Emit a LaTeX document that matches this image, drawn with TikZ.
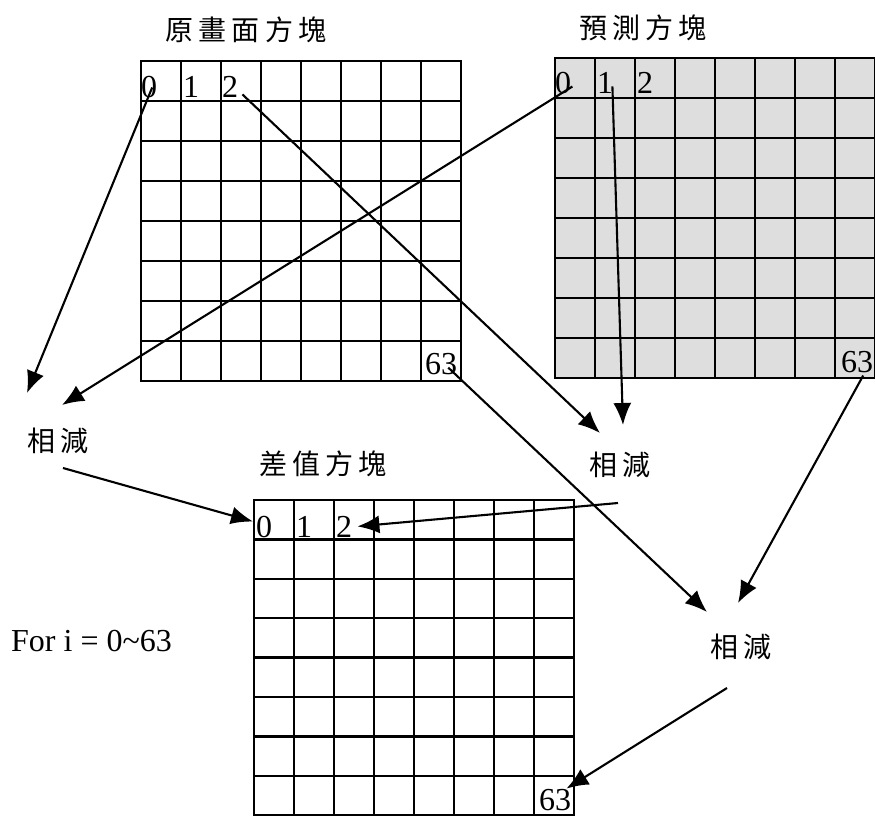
\documentclass[tikz,border=0pt]{standalone}
\usepackage{fontspec}
\setmainfont{Liberation Serif}
\newfontfamily\cjk[LetterSpace=18]{Noto Sans CJK TC}
\usepackage{tikz}
\usetikzlibrary{calc, arrows.meta}
\definecolor{mygray1}{RGB}{222, 222, 222}

\begin{document}
\begin{tikzpicture}[
    x = 1pt, y = -1pt,
    g0/.style = {line width = 2.3pt},
    d1/.style = {line width = 2.1pt, -{Latex[length=22pt, width=18pt]}},
    title/.style = {font = \cjk\fontsize{28}{32}\selectfont, inner sep = 0},
    num/.style = {font = \fontsize{32}{36}\selectfont, inner sep = 0, anchor = base west},
]
\useasboundingbox (0,0) rectangle (875,818);

% the three blocks
\begin{scope}[shift={(141,61)}]
\draw[g0] (0,0) rectangle (320,320);
\foreach \k in {40,80,...,280} {\draw[g0] (\k,0) -- (\k,320); \draw[g0] (0,\k) -- (320,\k);}
\end{scope}
\begin{scope}[shift={(555,58)}]
\draw[g0, fill = mygray1] (0,0) rectangle (320,320);
\foreach \k in {40,80,...,280} {\draw[g0] (\k,0) -- (\k,320); \draw[g0] (0,\k) -- (320,\k);}
\end{scope}
\begin{scope}[shift={(254,500)}, y = -0.985pt]
\draw[g0] (0,0) rectangle (320,320);
\foreach \k in {40,80,...,280} {\draw[g0] (\k,0) -- (\k,320); \draw[g0] (0,\k) -- (320,\k);}
\end{scope}

\node[title] (orig) at (246,30) {原畫面方塊};
\node[title] (pred) at (643,28) {預測方塊};
\node[title] (diff) at (323,464) {差值方塊};
\node[title] (sub1) at (58,441) {相減};
\node[title] (sub2) at (620,465) {相減};
\node[title] (sub3) at (741,647) {相減};
\node[font = \fontsize{32}{36}\selectfont, inner sep = 0, anchor = base west] (loop) at (11,651) {For i = 0\char`~63};

\node[num] (o0) at (141,98) {0};
\node[num] (o1) at (183,98) {1};
\node[num] (o2) at (222,98) {2};
\node[num] (o63) at (425,374) {63};
\node[num] (p0) at (555,94) {0};
\node[num] (p1) at (597,94) {1};
\node[num] (p2) at (637,94) {2};
\node[num] (p63) at (841,372) {63};
\node[num] (r0) at (256,537) {0};
\node[num] (r1) at (296,537) {1};
\node[num] (r2) at (336,537) {2};
\node[num] (r63) at (539,810) {63};

\coordinate (e1) at (27,393);
\coordinate (e2) at (62,405);
\coordinate (e3) at (600,433);
\coordinate (e4) at (623,425);
\coordinate (e7) at (707,612);
\coordinate (e8) at (738,603);
\coordinate (s1) at (63,468);
\coordinate (s2) at (618,503);
\coordinate (s3) at (727,688);

\draw[d1] ([shift={(3,0)}]o0.center) -- (e1);
\draw[d1] ([shift={(1,3)}]p0.east) -- (e2);
\draw[d1] ([shift={(4,7)}]o2.east) -- (e3);
\draw[d1] ([shift={(-1,3)}]p1.east) -- (e4);
\draw[d1] (s1) -- ([shift={(-3,-5)}]r0.west);
\draw[d1] (s2) -- ([shift={(5,0)}]r2.east);
\draw[d1] ([shift={(7,4)}]o63.center) -- (e7);
\draw[d1] ([shift={(6,3)}]p63.south) -- (e8);
\draw[d1] (s3) -- ([shift={(-5,0)}]r63.north east);
\end{tikzpicture}
\end{document}
